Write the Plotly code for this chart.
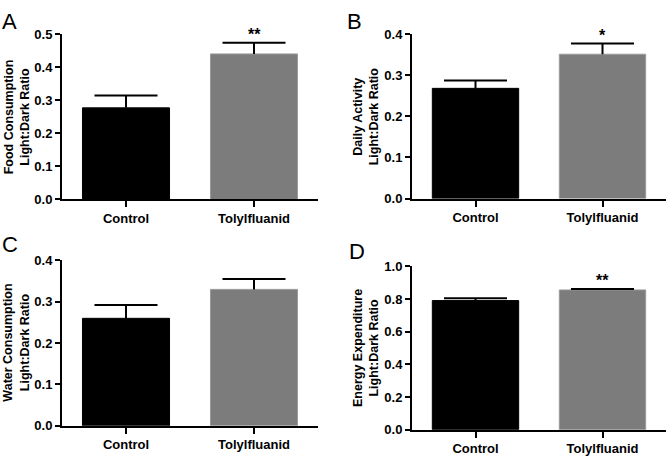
import plotly.graph_objects as go

categories = ["Control", "Tolylfluanid"]

food_means = [0.277, 0.440]
food_err = [0.037, 0.034]
activity_means = [0.268, 0.351]
activity_err = [0.019, 0.026]
water_means = [0.260, 0.330]
water_err = [0.032, 0.025]
energy_means = [0.790, 0.855]
energy_err = [0.014, 0.006]

panel_letters = ["A", "B", "C", "D"]
y_titles = ["Food Consumption<br>Light:Dark Ratio",
            "Daily Activity<br>Light:Dark Ratio",
            "Water Consumption<br>Light:Dark Ratio",
            "Energy Expenditure<br>Light:Dark Ratio"]
significance = ["**", "*", "", "**"]
y_max = [0.5, 0.4, 0.4, 1.0]
y_dtick = [0.1, 0.1, 0.1, 0.2]

bar_colors = ["#000000", "#7c7c7c"]
bar_lines = ["#000000", "#9a9a9a"]

W, H = 667, 459
# pixel boxes: (left, right, top, bottom)
boxes = [(62, 318, 28, 199), (412, 666, 28, 198), (62, 318, 262, 433), (412, 666, 268, 437)]
letter_pos = [(0, 0), (345, 0), (0, 231), (347, 238)]
title_x = [16.5, 366, 16.5, 366]

means = [food_means, activity_means, water_means, energy_means]
errs = [food_err, activity_err, water_err, energy_err]

fig = go.Figure()
font_family = "Liberation Sans, Arial, sans-serif"
annotations = []

for i in range(4):
    l, r, t, b = boxes[i]
    xa = "xaxis" if i == 0 else f"xaxis{i+1}"
    ya = "yaxis" if i == 0 else f"yaxis{i+1}"
    xr = "x" if i == 0 else f"x{i+1}"
    yr = "y" if i == 0 else f"y{i+1}"
    tops = [m + e for m, e in zip(means[i], errs[i])]
    fig.add_trace(go.Bar(
        x=categories, y=means[i], xaxis=xr, yaxis=yr,
        width=0.68,
        marker=dict(color=bar_colors, line=dict(color=bar_lines, width=1)),
        showlegend=False, hoverinfo="skip",
    ))
    # error bars: stem drawn downward from the cap position, cap as a marker
    fig.add_trace(go.Scatter(
        x=categories, y=tops, xaxis=xr, yaxis=yr, mode="markers",
        marker=dict(symbol="line-ew", size=45, color="#000000",
                    line=dict(color="#000000", width=2)),
        error_y=dict(type="data", array=[0, 0], arrayminus=errs[i], symmetric=False,
                     color="#000000", thickness=2, width=0),
        showlegend=False, hoverinfo="skip",
    ))
    fig.layout[xa] = dict(
        domain=[l / W, r / W], anchor=yr, type="category",
        range=[-0.5, 1.5], showline=True, linecolor="#000000", linewidth=2,
        ticks="outside", ticklen=6, tickwidth=2, tickcolor="#000000",
        showgrid=False, zeroline=False,
        tickfont=dict(family=font_family, size=13, color="#000000", weight="bold"),
    )
    fig.layout[ya] = dict(
        domain=[1 - b / H, 1 - t / H], anchor=xr,
        range=[0, y_max[i]], dtick=y_dtick[i], tick0=0, tickformat=".1f",
        showline=True, linecolor="#000000", linewidth=2,
        ticks="outside", ticklen=5, tickwidth=2, tickcolor="#000000",
        showgrid=False, zeroline=False,
        tickfont=dict(family=font_family, size=13, color="#000000", weight="bold"),
    )
    lx, ly = letter_pos[i]
    annotations.append(dict(
        text=panel_letters[i], x=lx / W, y=1 - ly / H, xref="paper", yref="paper",
        xanchor="left", yanchor="top", showarrow=False,
        font=dict(family=font_family, size=22, color="#000000"),
    ))
    annotations.append(dict(
        text=y_titles[i], x=title_x[i] / W, y=1 - (t + b) / 2 / H, xref="paper", yref="paper",
        xanchor="center", yanchor="middle", textangle=-90, showarrow=False,
        font=dict(family=font_family, size=12.5, color="#000000", weight="bold"),
    ))
    if significance[i]:
        annotations.append(dict(
            text=significance[i], x=categories[1], y=tops[1],
            xref=xr, yref=yr, xanchor="center", yanchor="bottom", yshift=-2,
            showarrow=False,
            font=dict(family=font_family, size=16, color="#000000", weight="bold"),
        ))

fig.update_layout(
    width=W, height=H, margin=dict(l=0, r=0, t=0, b=0),
    paper_bgcolor="#ffffff", plot_bgcolor="#ffffff",
    annotations=annotations,
)

fig.write_html("out.html", config={"displayModeBar": False},
               post_script="document.body.style.margin='0';document.body.style.overflow='hidden';")
